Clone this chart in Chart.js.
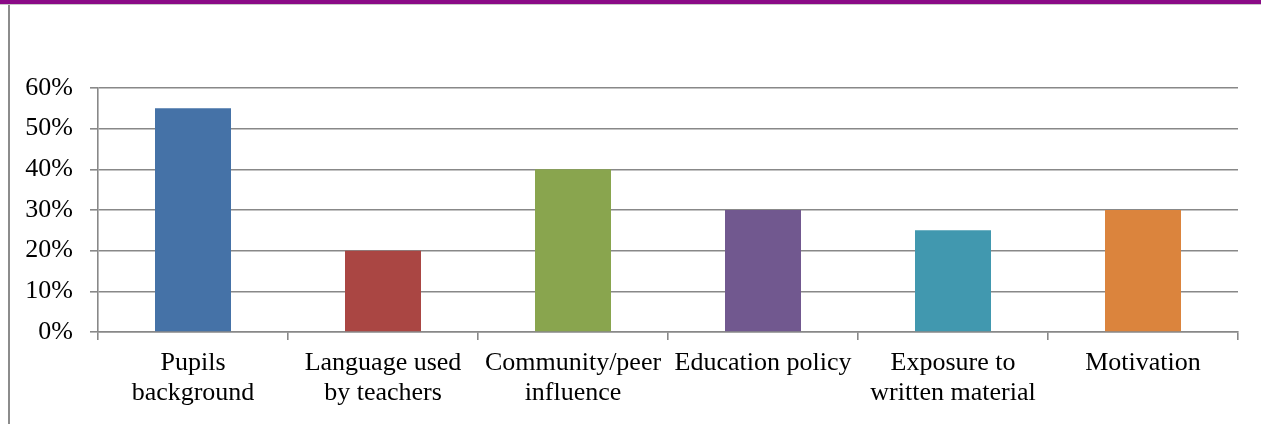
<!DOCTYPE html>
<html><head><meta charset="utf-8">
<script src="https://cdn.jsdelivr.net/npm/chart.js@4/dist/chart.umd.min.js"></script>
<style>
html,body{margin:0;padding:0;background:#fff;width:1261px;height:424px;overflow:hidden;}
#band{position:absolute;left:0;top:0;width:1261px;height:4px;background:#8a0a86;}
#band2{position:absolute;left:0;top:4px;width:1261px;height:1px;background:#c8c8c8;}
#lborder{position:absolute;left:8px;top:5px;width:2px;height:419px;background:#8c8c8c;}
#wrap{position:absolute;left:0;top:0;width:1261px;height:424px;}
</style></head>
<body>
<div id="band"></div><div id="band2"></div><div id="lborder"></div>
<div id="wrap"><canvas id="c" width="1261" height="424"></canvas></div>
<script>
const categories = [["Pupils","background"],["Language used","by teachers"],["Community/peer","influence"],["Education policy"],["Exposure to","written material"],["Motivation"]];
const values = [0.55, 0.20, 0.40, 0.30, 0.25, 0.30];
const barColors = ["#4572A7","#AA4643","#89A54E","#71588F","#4198AF","#DB843D"];
const yTicks = [0,0.1,0.2,0.3,0.4,0.5,0.6];

const font = {family:"'Liberation Serif','Times New Roman',serif", size:26, lineHeight:1.15};
new Chart(document.getElementById('c'), {
  type:'bar',
  data:{labels:categories, datasets:[{data:values, backgroundColor:barColors, barPercentage:0.4, categoryPercentage:1.0}]},
  options:{
    responsive:false, animation:false,
    layout:{padding:{left:0,top:88,right:23,bottom:0}},
    plugins:{legend:{display:false}, tooltip:{enabled:false}},
    scales:{
      y:{min:0,max:0.6,
         afterBuildTicks:(s)=>{s.ticks = yTicks.map(v=>({value:v}));},
         afterFit:(s)=>{s.width=98;},
         ticks:{stepSize:0.1, padding:17, color:'#000', font:font, callback:(v)=>Math.round(v*100)+'%'},
         grid:{color:'#888888', lineWidth:1.6, tickLength:8, drawTicks:true},
         border:{color:'#888888', width:1.6}},
      x:{afterFit:(s)=>{s.height=92;},
         ticks:{autoSkip:false, maxRotation:0, minRotation:0, padding:8, color:'#000', font:font},
         grid:{drawOnChartArea:false, drawTicks:true, tickLength:8, color:'#888888', lineWidth:1.6, offset:true},
         border:{color:'#888888', width:1.6}}
    }
  }
});
</script>
</body></html>
